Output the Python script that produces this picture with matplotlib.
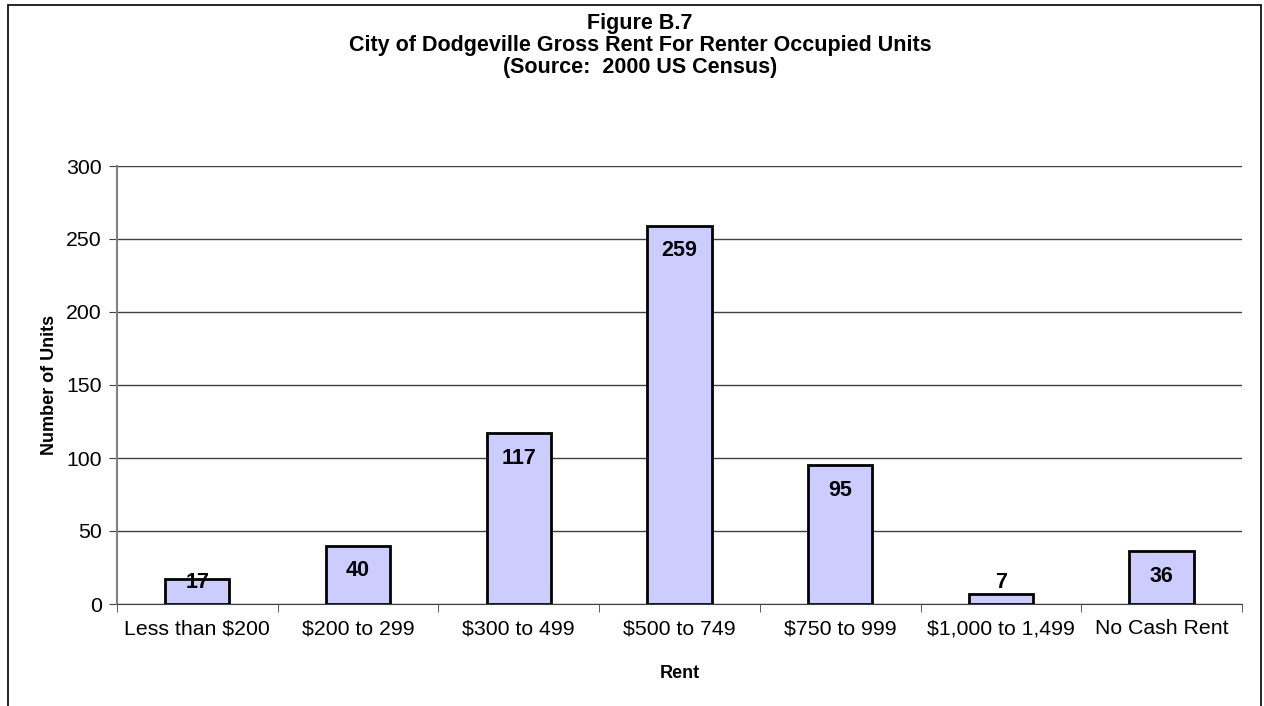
import matplotlib
matplotlib.use("Agg")
import matplotlib.pyplot as plt
from matplotlib.patches import Rectangle
import numpy as np

categories = ["Less than $200", "$200 to 299", "$300 to 499", "$500 to 749",
              "$750 to 999", "$1,000 to 1,499", "No Cash Rent"]
values = [17, 40, 117, 259, 95, 7, 36]
yticks = [0, 50, 100, 150, 200, 250, 300]
title_lines = ["Figure B.7", "City of Dodgeville Gross Rent For Renter Occupied Units",
               "(Source:  2000 US Census)"]

plt.rcParams['font.family'] = ['Liberation Sans', 'DejaVu Sans']

W, H = 1264, 706
fig = plt.figure(figsize=(W / 100, H / 100), dpi=100)

# outer chart border (bottom edge falls outside the image)
fig.add_artist(Rectangle((8 / W, -0.05), (1261 - 8) / W, 1.05 - 5 / H,
                         transform=fig.transFigure, fill=False,
                         edgecolor='black', linewidth=1.2))

left, right, top, bottom = 117, 1242, 166, 604
ax = fig.add_axes([left / W, 1 - bottom / H, (right - left) / W, (bottom - top) / H])

x = np.arange(len(categories))
ax.bar(x, values, width=0.4, color='#CCCCFF', edgecolor='black', linewidth=2, zorder=3)

ax.set_xlim(-0.5, len(categories) - 0.5)
ax.set_ylim(0, 300)
ax.set_yticks(yticks)
ax.set_yticklabels([str(t) for t in yticks], fontsize=15.3)
ax.yaxis.grid(True, color='#404040', linewidth=1)
ax.set_axisbelow(True)

ax.set_xticks(x)
ax.set_xticklabels(categories, fontsize=15.3)
ax.tick_params(axis='x', length=0, pad=11)
ax.set_xticks(np.arange(len(categories) + 1) - 0.5, minor=True)
ax.tick_params(axis='x', which='minor', length=6, color='#404040', direction='out')
ax.tick_params(axis='y', length=6, color='#404040', direction='out', pad=5)

for s in ['top', 'right']:
    ax.spines[s].set_visible(False)
ax.spines['left'].set_color('#808080')
ax.spines['left'].set_linewidth(1.5)
ax.spines['bottom'].set_color('#404040')

for xi, v in zip(x, values):
    ly = max(v - 17, 15)
    ax.text(xi, ly, str(v), ha='center', va='center', fontsize=15.5,
            fontweight='bold', zorder=4)

ax.set_ylabel("Number of Units", fontsize=13, fontweight='bold', labelpad=6)
ax.set_xlabel("Rent", fontsize=13, fontweight='bold', labelpad=19)

for i, line in enumerate(title_lines):
    fig.text(640 / W, 1 - (23 + 22.5 * i) / H, line, ha='center', va='center',
             fontsize=15.5, fontweight='bold')

fig.savefig("out.png", dpi=100)
